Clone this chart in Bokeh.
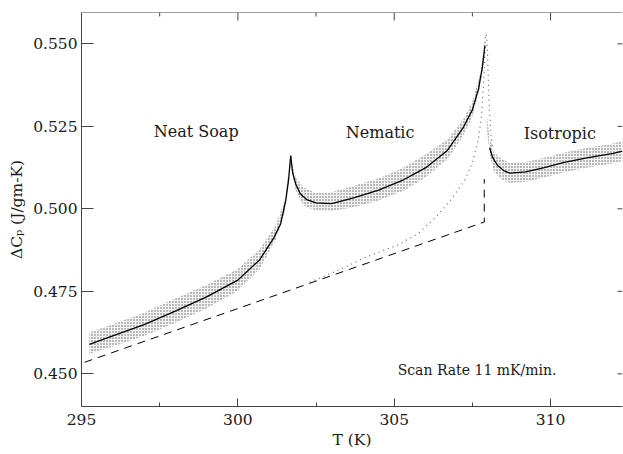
import math
from bokeh.plotting import figure
from bokeh.models import FixedTicker, LinearAxis, NumeralTickFormatter, Label, Range1d, Span
from bokeh.embed import file_html
from bokeh.resources import INLINE

# ---- data ----
# fitted curve, neat-soap side
neat_T = [295.25, 296.0, 297.0, 298.0, 299.0, 300.0, 300.7, 301.15, 301.37, 301.53, 301.62, 301.69]
neat_cp = [0.4589, 0.4615, 0.4649, 0.4690, 0.4733, 0.4784, 0.4846, 0.4912, 0.4955, 0.5025, 0.5086, 0.5161]
# fitted curve, nematic
nem_T = [301.69, 301.75, 301.85, 302.0, 302.2, 302.5, 303.0, 303.7, 304.5, 305.3, 306.0, 306.7, 307.2, 307.5, 307.7, 307.82, 307.9]
nem_cp = [0.5161, 0.5110, 0.5075, 0.5045, 0.5028, 0.5018, 0.5016, 0.5033, 0.5057, 0.5088, 0.5124, 0.5177, 0.5245, 0.5300, 0.5365, 0.5430, 0.5495]
# fitted curve, isotropic
iso_T = [308.05, 308.15, 308.3, 308.5, 308.7, 309.2, 309.8, 310.4, 311.2, 312.0, 312.3]
iso_cp = [0.5185, 0.5155, 0.5132, 0.5116, 0.5108, 0.5112, 0.5125, 0.5140, 0.5155, 0.5168, 0.5175]

# spread of the measured points (lower / upper edge of the cloud)
cloud_neat_T = [295.25, 296.0, 297.0, 298.0, 299.0, 300.0, 300.7, 301.2, 301.5, 301.69]
cloud_neat_lo = [0.4560, 0.4583, 0.4615, 0.4655, 0.4698, 0.4752, 0.4818, 0.4905, 0.4990, 0.5150]
cloud_neat_hi = [0.4625, 0.4650, 0.4685, 0.4728, 0.4770, 0.4818, 0.4878, 0.4948, 0.5025, 0.5165]
cloud_nem_T = [301.72, 301.85, 302.1, 302.5, 303.0, 303.7, 304.5, 305.3, 306.0, 306.7, 307.2, 307.5, 307.75, 307.9]
cloud_nem_lo = [0.5120, 0.5055, 0.5010, 0.4995, 0.4993, 0.5005, 0.5025, 0.5055, 0.5095, 0.5150, 0.5220, 0.5280, 0.5370, 0.5470]
cloud_nem_hi = [0.5145, 0.5095, 0.5065, 0.5048, 0.5050, 0.5070, 0.5092, 0.5125, 0.5165, 0.5210, 0.5270, 0.5325, 0.5410, 0.5510]
cloud_iso_T = [307.97, 308.05, 308.2, 308.45, 308.7, 309.2, 309.8, 310.4, 311.2, 312.0, 312.3]
cloud_iso_lo = [0.5240, 0.5165, 0.5110, 0.5088, 0.5078, 0.5082, 0.5095, 0.5110, 0.5125, 0.5138, 0.5145]
cloud_iso_hi = [0.5280, 0.5215, 0.5170, 0.5150, 0.5140, 0.5142, 0.5155, 0.5170, 0.5185, 0.5198, 0.5205]

# dotted curve (critical part on the background)
dot_T = [302.3, 302.8, 303.5, 304.0, 304.6, 305.1, 305.75, 306.3, 306.8, 307.25, 307.5, 307.7,
         307.8, 307.88, 307.92, 307.95, 307.98, 308.03, 308.09, 308.15]
dot_cp = [0.4778, 0.4797, 0.4826, 0.4850, 0.4872, 0.4890, 0.4924, 0.4972, 0.5026, 0.5086, 0.5140, 0.5215,
          0.5290, 0.5420, 0.5530, 0.5525, 0.5480, 0.5328, 0.5228, 0.5180]

# dashed background line
base_T = [295.1, 307.88, 307.88]
base_cp = [0.4535, 0.4960, 0.5090]

x_major = [295, 300, 305, 310]
x_minor = [297.5, 302.5, 307.5]
y_major = [0.450, 0.475, 0.500, 0.525, 0.550]

X0, X1 = 295.0, 312.30
Y0, Y1 = 0.4401, 0.5595

FONT = "DejaVu Serif"
INK = "#1a1a1a"
AX = "#444444"

p = figure(width=623, height=452, output_backend="svg", toolbar_location=None,
           x_range=Range1d(X0, X1), y_range=Range1d(Y0, Y1),
           x_axis_location=None, y_axis_location=None,
           min_border_left=81, min_border_right=1, min_border_top=12, min_border_bottom=46)
p.outline_line_color = None
p.grid.visible = False
p.background_fill_color = "white"
p.border_fill_color = "white"


def style(ax):
    ax.axis_line_color = AX
    ax.axis_line_width = 1
    ax.major_tick_line_color = AX
    ax.minor_tick_line_color = AX
    ax.major_tick_out = 0
    ax.minor_tick_out = 0
    ax.major_label_text_font = FONT
    ax.major_label_text_font_size = "15.5px"
    ax.major_label_text_color = INK
    ax.axis_label_text_font = FONT
    ax.axis_label_text_font_size = "15.5px"
    ax.axis_label_text_font_style = "normal"
    ax.axis_label_text_color = INK


xb = LinearAxis(ticker=FixedTicker(ticks=x_major, minor_ticks=x_minor), axis_label="T (K)")
style(xb)
xb.major_tick_in = 8
xb.minor_tick_in = 4
xb.major_label_standoff = 7
xb.axis_label_standoff = 3
p.add_layout(xb, "below")

yl = LinearAxis(ticker=FixedTicker(ticks=y_major, minor_ticks=[]), axis_label="ΔCₚ (J/gm-K)",
                formatter=NumeralTickFormatter(format="0.000"))
style(yl)
yl.major_tick_in = 12
yl.minor_tick_in = 0
yl.major_label_standoff = 4
yl.axis_label_standoff = 4
p.add_layout(yl, "left")

# top frame line with inward ticks, small ticks on the right edge
p.add_layout(Span(location=Y1, dimension="width", line_color=AX, line_width=1))
p.ray(x=x_major, y=[Y1] * len(x_major), length=8, length_units="screen",
      angle=-math.pi / 2, line_color=AX, line_width=1)
p.ray(x=x_minor, y=[Y1] * len(x_minor), length=4, length_units="screen",
      angle=-math.pi / 2, line_color=AX, line_width=1)
p.ray(x=[X1] * len(y_major), y=y_major, length=5, length_units="screen",
      angle=math.pi, line_color=AX, line_width=1)

# measured-point cloud
for T, lo, hi in [(cloud_neat_T, cloud_neat_lo, cloud_neat_hi),
                  (cloud_nem_T, cloud_nem_lo, cloud_nem_hi),
                  (cloud_iso_T, cloud_iso_lo, cloud_iso_hi)]:
    p.varea(x=T, y1=lo, y2=hi, fill_color="#999999", fill_alpha=0.12,
            hatch_pattern="dot", hatch_scale=3, hatch_color="black", hatch_alpha=0.6, hatch_weight=1)

# background and critical part
p.line(base_T, base_cp, line_color="black", line_width=1, line_dash="8 6")
p.line(dot_T, dot_cp, line_color="#666666", line_width=1.2, line_dash="1 4")

# fit lines
for T, cp in [(neat_T, neat_cp), (nem_T, nem_cp), (iso_T, iso_cp)]:
    p.line(T, cp, line_color="black", line_width=1.3)

for txt, x, y, size in [("Neat Soap", 297.31, 0.5234, "16px"),
                        ("Nematic", 303.45, 0.5232, "16px"),
                        ("Isotropic", 309.14, 0.5228, "16px"),
                        ("Scan Rate 11 mK/min.", 305.11, 0.4513, "14px")]:
    p.add_layout(Label(x=x, y=y, text=txt, text_font=FONT, text_font_size=size,
                       text_color=INK, text_baseline="alphabetic", text_align="left"))

open("out.html", "w").write(file_html(p, INLINE))
